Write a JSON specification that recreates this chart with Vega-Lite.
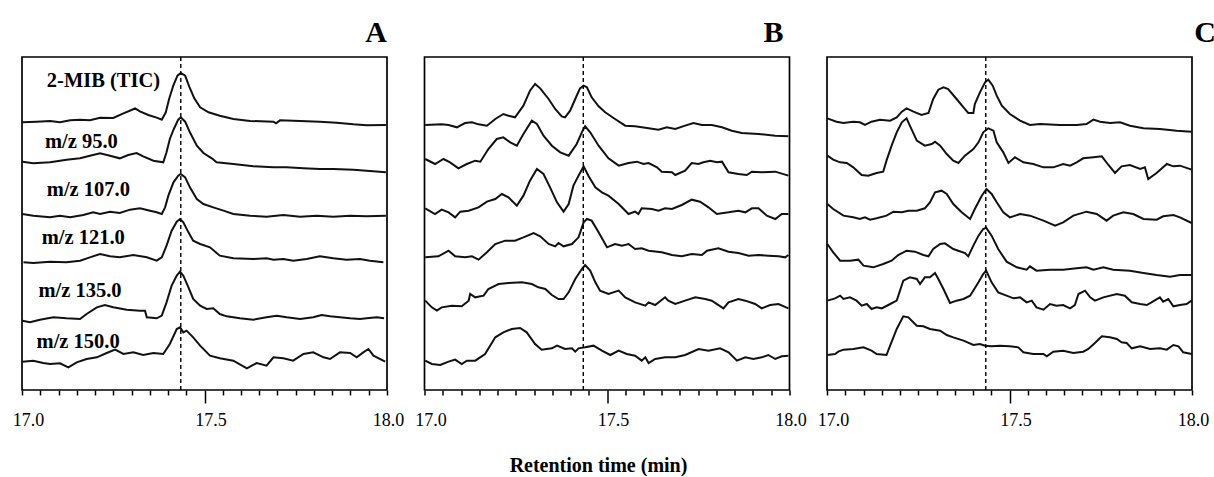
{
"$schema": "https://vega.github.io/schema/vega-lite/v6.json",
"background": "white",
"padding": {"left": 11, "top": 17, "right": 5, "bottom": 0},
"bounds": "flush",
"spacing": 37.5,
"config": {
  "view": {"stroke": "black", "strokeWidth": 1.7},
  "font": "Liberation Serif",
  "title": {"font": "Liberation Serif", "fontWeight": "bold", "fontSize": 30, "color": "black", "anchor": "end", "frame": "group", "baseline": "alphabetic", "offset": 8}
},
"datasets": {
"labels": [
{"label":"2-MIB (TIC)","t":17.068,"v":908},
{"label":"m/z 95.0","t":17.063,"v":725},
{"label":"m/z 107.0","t":17.068,"v":581},
{"label":"m/z 121.0","t":17.054,"v":438},
{"label":"m/z 135.0","t":17.045,"v":278},
{"label":"m/z 150.0","t":17.040,"v":125}
],
"traces": [
{"panel":"A","trace":1,"t":17.001,"v":803},{"panel":"A","trace":1,"t":17.040,"v":805},{"panel":"A","trace":1,"t":17.077,"v":807},{"panel":"A","trace":1,"t":17.104,"v":803},{"panel":"A","trace":1,"t":17.132,"v":809},{"panel":"A","trace":1,"t":17.159,"v":811},{"panel":"A","trace":1,"t":17.186,"v":809},{"panel":"A","trace":1,"t":17.214,"v":817},{"panel":"A","trace":1,"t":17.250,"v":816},{"panel":"A","trace":1,"t":17.278,"v":830},{"panel":"A","trace":1,"t":17.300,"v":840},{"panel":"A","trace":1,"t":17.310,"v":845},{"panel":"A","trace":1,"t":17.323,"v":836},{"panel":"A","trace":1,"t":17.346,"v":825},{"panel":"A","trace":1,"t":17.369,"v":817},{"panel":"A","trace":1,"t":17.383,"v":811},{"panel":"A","trace":1,"t":17.394,"v":833},{"panel":"A","trace":1,"t":17.403,"v":873},{"panel":"A","trace":1,"t":17.415,"v":915},{"panel":"A","trace":1,"t":17.426,"v":943},{"panel":"A","trace":1,"t":17.435,"v":951},{"panel":"A","trace":1,"t":17.447,"v":943},{"panel":"A","trace":1,"t":17.458,"v":911},{"panel":"A","trace":1,"t":17.472,"v":875},{"panel":"A","trace":1,"t":17.488,"v":848},{"panel":"A","trace":1,"t":17.511,"v":833},{"panel":"A","trace":1,"t":17.542,"v":823},{"panel":"A","trace":1,"t":17.579,"v":813},{"panel":"A","trace":1,"t":17.625,"v":807},{"panel":"A","trace":1,"t":17.689,"v":805},{"panel":"A","trace":1,"t":17.696,"v":800},{"panel":"A","trace":1,"t":17.707,"v":809},{"panel":"A","trace":1,"t":17.762,"v":807},{"panel":"A","trace":1,"t":17.816,"v":805},{"panel":"A","trace":1,"t":17.862,"v":802},{"panel":"A","trace":1,"t":17.908,"v":797},{"panel":"A","trace":1,"t":17.944,"v":794},{"panel":"A","trace":1,"t":17.997,"v":795},
{"panel":"A","trace":2,"t":17.001,"v":685},{"panel":"A","trace":2,"t":17.031,"v":680},{"panel":"A","trace":2,"t":17.077,"v":683},{"panel":"A","trace":2,"t":17.122,"v":691},{"panel":"A","trace":2,"t":17.159,"v":695},{"panel":"A","trace":2,"t":17.186,"v":703},{"panel":"A","trace":2,"t":17.214,"v":710},{"panel":"A","trace":2,"t":17.241,"v":703},{"panel":"A","trace":2,"t":17.268,"v":695},{"panel":"A","trace":2,"t":17.291,"v":705},{"panel":"A","trace":2,"t":17.314,"v":711},{"panel":"A","trace":2,"t":17.332,"v":701},{"panel":"A","trace":2,"t":17.360,"v":688},{"panel":"A","trace":2,"t":17.387,"v":683},{"panel":"A","trace":2,"t":17.396,"v":713},{"panel":"A","trace":2,"t":17.405,"v":753},{"panel":"A","trace":2,"t":17.416,"v":783},{"panel":"A","trace":2,"t":17.428,"v":811},{"panel":"A","trace":2,"t":17.435,"v":818},{"panel":"A","trace":2,"t":17.447,"v":805},{"panel":"A","trace":2,"t":17.460,"v":773},{"panel":"A","trace":2,"t":17.479,"v":733},{"panel":"A","trace":2,"t":17.497,"v":711},{"panel":"A","trace":2,"t":17.520,"v":695},{"panel":"A","trace":2,"t":17.533,"v":683},{"panel":"A","trace":2,"t":17.579,"v":678},{"panel":"A","trace":2,"t":17.634,"v":671},{"panel":"A","trace":2,"t":17.689,"v":668},{"panel":"A","trace":2,"t":17.725,"v":668},{"panel":"A","trace":2,"t":17.771,"v":665},{"panel":"A","trace":2,"t":17.816,"v":663},{"panel":"A","trace":2,"t":17.853,"v":663},{"panel":"A","trace":2,"t":17.908,"v":661},{"panel":"A","trace":2,"t":17.944,"v":658},{"panel":"A","trace":2,"t":17.997,"v":653},
{"panel":"A","trace":3,"t":17.001,"v":528},{"panel":"A","trace":3,"t":17.031,"v":523},{"panel":"A","trace":3,"t":17.077,"v":518},{"panel":"A","trace":3,"t":17.104,"v":523},{"panel":"A","trace":3,"t":17.132,"v":518},{"panel":"A","trace":3,"t":17.168,"v":525},{"panel":"A","trace":3,"t":17.195,"v":533},{"panel":"A","trace":3,"t":17.214,"v":528},{"panel":"A","trace":3,"t":17.241,"v":535},{"panel":"A","trace":3,"t":17.268,"v":531},{"panel":"A","trace":3,"t":17.296,"v":541},{"panel":"A","trace":3,"t":17.323,"v":545},{"panel":"A","trace":3,"t":17.351,"v":538},{"panel":"A","trace":3,"t":17.369,"v":533},{"panel":"A","trace":3,"t":17.383,"v":528},{"panel":"A","trace":3,"t":17.392,"v":548},{"panel":"A","trace":3,"t":17.401,"v":583},{"panel":"A","trace":3,"t":17.415,"v":623},{"panel":"A","trace":3,"t":17.428,"v":643},{"panel":"A","trace":3,"t":17.435,"v":648},{"panel":"A","trace":3,"t":17.447,"v":638},{"panel":"A","trace":3,"t":17.460,"v":608},{"panel":"A","trace":3,"t":17.479,"v":573},{"panel":"A","trace":3,"t":17.497,"v":558},{"panel":"A","trace":3,"t":17.524,"v":548},{"panel":"A","trace":3,"t":17.552,"v":538},{"panel":"A","trace":3,"t":17.579,"v":528},{"panel":"A","trace":3,"t":17.625,"v":523},{"panel":"A","trace":3,"t":17.670,"v":520},{"panel":"A","trace":3,"t":17.716,"v":525},{"panel":"A","trace":3,"t":17.762,"v":520},{"panel":"A","trace":3,"t":17.807,"v":523},{"panel":"A","trace":3,"t":17.853,"v":520},{"panel":"A","trace":3,"t":17.899,"v":523},{"panel":"A","trace":3,"t":17.944,"v":521},{"panel":"A","trace":3,"t":17.997,"v":523},
{"panel":"A","trace":4,"t":17.004,"v":383},{"panel":"A","trace":4,"t":17.031,"v":381},{"panel":"A","trace":4,"t":17.077,"v":385},{"panel":"A","trace":4,"t":17.122,"v":383},{"panel":"A","trace":4,"t":17.159,"v":388},{"panel":"A","trace":4,"t":17.186,"v":398},{"panel":"A","trace":4,"t":17.214,"v":408},{"panel":"A","trace":4,"t":17.241,"v":401},{"panel":"A","trace":4,"t":17.268,"v":398},{"panel":"A","trace":4,"t":17.305,"v":405},{"panel":"A","trace":4,"t":17.342,"v":398},{"panel":"A","trace":4,"t":17.369,"v":388},{"panel":"A","trace":4,"t":17.383,"v":398},{"panel":"A","trace":4,"t":17.396,"v":433},{"panel":"A","trace":4,"t":17.410,"v":478},{"panel":"A","trace":4,"t":17.424,"v":505},{"panel":"A","trace":4,"t":17.433,"v":513},{"panel":"A","trace":4,"t":17.442,"v":503},{"panel":"A","trace":4,"t":17.456,"v":473},{"panel":"A","trace":4,"t":17.469,"v":448},{"panel":"A","trace":4,"t":17.488,"v":438},{"panel":"A","trace":4,"t":17.515,"v":428},{"panel":"A","trace":4,"t":17.542,"v":403},{"panel":"A","trace":4,"t":17.579,"v":395},{"panel":"A","trace":4,"t":17.634,"v":393},{"panel":"A","trace":4,"t":17.670,"v":395},{"panel":"A","trace":4,"t":17.689,"v":391},{"panel":"A","trace":4,"t":17.716,"v":393},{"panel":"A","trace":4,"t":17.743,"v":388},{"panel":"A","trace":4,"t":17.780,"v":393},{"panel":"A","trace":4,"t":17.816,"v":401},{"panel":"A","trace":4,"t":17.853,"v":395},{"panel":"A","trace":4,"t":17.889,"v":391},{"panel":"A","trace":4,"t":17.926,"v":393},{"panel":"A","trace":4,"t":17.953,"v":388},{"panel":"A","trace":4,"t":17.990,"v":383},
{"panel":"A","trace":5,"t":17.001,"v":208},{"panel":"A","trace":5,"t":17.022,"v":203},{"panel":"A","trace":5,"t":17.049,"v":211},{"panel":"A","trace":5,"t":17.086,"v":218},{"panel":"A","trace":5,"t":17.122,"v":215},{"panel":"A","trace":5,"t":17.159,"v":213},{"panel":"A","trace":5,"t":17.177,"v":228},{"panel":"A","trace":5,"t":17.205,"v":248},{"panel":"A","trace":5,"t":17.227,"v":255},{"panel":"A","trace":5,"t":17.250,"v":248},{"panel":"A","trace":5,"t":17.287,"v":241},{"panel":"A","trace":5,"t":17.323,"v":238},{"panel":"A","trace":5,"t":17.337,"v":238},{"panel":"A","trace":5,"t":17.342,"v":218},{"panel":"A","trace":5,"t":17.369,"v":215},{"panel":"A","trace":5,"t":17.383,"v":223},{"panel":"A","trace":5,"t":17.396,"v":263},{"panel":"A","trace":5,"t":17.410,"v":313},{"panel":"A","trace":5,"t":17.424,"v":343},{"panel":"A","trace":5,"t":17.433,"v":355},{"panel":"A","trace":5,"t":17.442,"v":343},{"panel":"A","trace":5,"t":17.456,"v":308},{"panel":"A","trace":5,"t":17.469,"v":273},{"panel":"A","trace":5,"t":17.488,"v":253},{"panel":"A","trace":5,"t":17.506,"v":243},{"panel":"A","trace":5,"t":17.524,"v":245},{"panel":"A","trace":5,"t":17.542,"v":228},{"panel":"A","trace":5,"t":17.561,"v":221},{"panel":"A","trace":5,"t":17.597,"v":215},{"panel":"A","trace":5,"t":17.634,"v":211},{"panel":"A","trace":5,"t":17.670,"v":218},{"panel":"A","trace":5,"t":17.698,"v":223},{"panel":"A","trace":5,"t":17.725,"v":218},{"panel":"A","trace":5,"t":17.762,"v":213},{"panel":"A","trace":5,"t":17.798,"v":218},{"panel":"A","trace":5,"t":17.821,"v":225},{"panel":"A","trace":5,"t":17.844,"v":221},{"panel":"A","trace":5,"t":17.871,"v":218},{"panel":"A","trace":5,"t":17.899,"v":215},{"panel":"A","trace":5,"t":17.926,"v":213},{"panel":"A","trace":5,"t":17.944,"v":215},{"panel":"A","trace":5,"t":17.972,"v":218},{"panel":"A","trace":5,"t":17.992,"v":215},
{"panel":"A","trace":6,"t":17.001,"v":85},{"panel":"A","trace":6,"t":17.031,"v":88},{"panel":"A","trace":6,"t":17.058,"v":81},{"panel":"A","trace":6,"t":17.077,"v":78},{"panel":"A","trace":6,"t":17.104,"v":80},{"panel":"A","trace":6,"t":17.127,"v":68},{"panel":"A","trace":6,"t":17.150,"v":83},{"panel":"A","trace":6,"t":17.177,"v":93},{"panel":"A","trace":6,"t":17.205,"v":98},{"panel":"A","trace":6,"t":17.232,"v":111},{"panel":"A","trace":6,"t":17.255,"v":121},{"panel":"A","trace":6,"t":17.278,"v":108},{"panel":"A","trace":6,"t":17.305,"v":113},{"panel":"A","trace":6,"t":17.332,"v":105},{"panel":"A","trace":6,"t":17.360,"v":111},{"panel":"A","trace":6,"t":17.387,"v":108},{"panel":"A","trace":6,"t":17.405,"v":138},{"panel":"A","trace":6,"t":17.424,"v":183},{"panel":"A","trace":6,"t":17.433,"v":188},{"panel":"A","trace":6,"t":17.442,"v":173},{"panel":"A","trace":6,"t":17.451,"v":178},{"panel":"A","trace":6,"t":17.469,"v":158},{"panel":"A","trace":6,"t":17.488,"v":133},{"panel":"A","trace":6,"t":17.515,"v":103},{"panel":"A","trace":6,"t":17.542,"v":95},{"panel":"A","trace":6,"t":17.579,"v":88},{"panel":"A","trace":6,"t":17.616,"v":65},{"panel":"A","trace":6,"t":17.643,"v":81},{"panel":"A","trace":6,"t":17.670,"v":73},{"panel":"A","trace":6,"t":17.689,"v":98},{"panel":"A","trace":6,"t":17.716,"v":95},{"panel":"A","trace":6,"t":17.743,"v":88},{"panel":"A","trace":6,"t":17.771,"v":108},{"panel":"A","trace":6,"t":17.798,"v":113},{"panel":"A","trace":6,"t":17.826,"v":98},{"panel":"A","trace":6,"t":17.844,"v":93},{"panel":"A","trace":6,"t":17.871,"v":113},{"panel":"A","trace":6,"t":17.899,"v":111},{"panel":"A","trace":6,"t":17.917,"v":98},{"panel":"A","trace":6,"t":17.935,"v":113},{"panel":"A","trace":6,"t":17.949,"v":123},{"panel":"A","trace":6,"t":17.963,"v":103},{"panel":"A","trace":6,"t":17.995,"v":85},
{"panel":"B","trace":1,"t":17.002,"v":795},{"panel":"B","trace":1,"t":17.047,"v":797},{"panel":"B","trace":1,"t":17.066,"v":795},{"panel":"B","trace":1,"t":17.089,"v":788},{"panel":"B","trace":1,"t":17.111,"v":801},{"panel":"B","trace":1,"t":17.130,"v":803},{"panel":"B","trace":1,"t":17.148,"v":797},{"panel":"B","trace":1,"t":17.171,"v":793},{"panel":"B","trace":1,"t":17.194,"v":813},{"panel":"B","trace":1,"t":17.216,"v":828},{"panel":"B","trace":1,"t":17.230,"v":823},{"panel":"B","trace":1,"t":17.248,"v":818},{"panel":"B","trace":1,"t":17.271,"v":853},{"panel":"B","trace":1,"t":17.289,"v":898},{"panel":"B","trace":1,"t":17.303,"v":918},{"panel":"B","trace":1,"t":17.317,"v":905},{"panel":"B","trace":1,"t":17.340,"v":873},{"panel":"B","trace":1,"t":17.358,"v":843},{"panel":"B","trace":1,"t":17.376,"v":821},{"panel":"B","trace":1,"t":17.385,"v":818},{"panel":"B","trace":1,"t":17.399,"v":838},{"panel":"B","trace":1,"t":17.413,"v":873},{"panel":"B","trace":1,"t":17.426,"v":905},{"panel":"B","trace":1,"t":17.436,"v":913},{"panel":"B","trace":1,"t":17.445,"v":908},{"panel":"B","trace":1,"t":17.458,"v":878},{"panel":"B","trace":1,"t":17.477,"v":851},{"panel":"B","trace":1,"t":17.495,"v":833},{"panel":"B","trace":1,"t":17.522,"v":813},{"panel":"B","trace":1,"t":17.550,"v":793},{"panel":"B","trace":1,"t":17.577,"v":791},{"panel":"B","trace":1,"t":17.614,"v":785},{"panel":"B","trace":1,"t":17.641,"v":781},{"panel":"B","trace":1,"t":17.664,"v":788},{"panel":"B","trace":1,"t":17.687,"v":783},{"panel":"B","trace":1,"t":17.714,"v":793},{"panel":"B","trace":1,"t":17.737,"v":801},{"panel":"B","trace":1,"t":17.760,"v":795},{"panel":"B","trace":1,"t":17.787,"v":795},{"panel":"B","trace":1,"t":17.815,"v":788},{"panel":"B","trace":1,"t":17.842,"v":778},{"panel":"B","trace":1,"t":17.869,"v":771},{"panel":"B","trace":1,"t":17.915,"v":768},{"panel":"B","trace":1,"t":17.961,"v":763},{"panel":"B","trace":1,"t":17.997,"v":761},
{"panel":"B","trace":2,"t":17.002,"v":693},{"panel":"B","trace":2,"t":17.029,"v":678},{"panel":"B","trace":2,"t":17.052,"v":693},{"panel":"B","trace":2,"t":17.070,"v":683},{"panel":"B","trace":2,"t":17.093,"v":665},{"panel":"B","trace":2,"t":17.116,"v":678},{"panel":"B","trace":2,"t":17.139,"v":688},{"panel":"B","trace":2,"t":17.153,"v":685},{"panel":"B","trace":2,"t":17.175,"v":723},{"panel":"B","trace":2,"t":17.198,"v":753},{"panel":"B","trace":2,"t":17.216,"v":758},{"panel":"B","trace":2,"t":17.235,"v":743},{"panel":"B","trace":2,"t":17.253,"v":733},{"panel":"B","trace":2,"t":17.271,"v":768},{"panel":"B","trace":2,"t":17.294,"v":808},{"panel":"B","trace":2,"t":17.308,"v":798},{"panel":"B","trace":2,"t":17.326,"v":763},{"panel":"B","trace":2,"t":17.349,"v":733},{"panel":"B","trace":2,"t":17.372,"v":713},{"panel":"B","trace":2,"t":17.395,"v":703},{"panel":"B","trace":2,"t":17.417,"v":738},{"panel":"B","trace":2,"t":17.431,"v":773},{"panel":"B","trace":2,"t":17.440,"v":791},{"panel":"B","trace":2,"t":17.454,"v":773},{"panel":"B","trace":2,"t":17.477,"v":733},{"panel":"B","trace":2,"t":17.504,"v":695},{"panel":"B","trace":2,"t":17.532,"v":673},{"panel":"B","trace":2,"t":17.559,"v":681},{"panel":"B","trace":2,"t":17.582,"v":685},{"panel":"B","trace":2,"t":17.600,"v":678},{"panel":"B","trace":2,"t":17.614,"v":681},{"panel":"B","trace":2,"t":17.637,"v":668},{"panel":"B","trace":2,"t":17.650,"v":655},{"panel":"B","trace":2,"t":17.678,"v":653},{"panel":"B","trace":2,"t":17.687,"v":645},{"panel":"B","trace":2,"t":17.714,"v":658},{"panel":"B","trace":2,"t":17.732,"v":681},{"panel":"B","trace":2,"t":17.751,"v":678},{"panel":"B","trace":2,"t":17.764,"v":683},{"panel":"B","trace":2,"t":17.783,"v":688},{"panel":"B","trace":2,"t":17.801,"v":683},{"panel":"B","trace":2,"t":17.815,"v":685},{"panel":"B","trace":2,"t":17.833,"v":653},{"panel":"B","trace":2,"t":17.860,"v":648},{"panel":"B","trace":2,"t":17.883,"v":645},{"panel":"B","trace":2,"t":17.897,"v":655},{"panel":"B","trace":2,"t":17.924,"v":653},{"panel":"B","trace":2,"t":17.961,"v":655},{"panel":"B","trace":2,"t":17.997,"v":643},
{"panel":"B","trace":3,"t":17.002,"v":545},{"panel":"B","trace":3,"t":17.029,"v":528},{"panel":"B","trace":3,"t":17.047,"v":541},{"panel":"B","trace":3,"t":17.066,"v":533},{"panel":"B","trace":3,"t":17.084,"v":518},{"panel":"B","trace":3,"t":17.098,"v":535},{"panel":"B","trace":3,"t":17.121,"v":538},{"panel":"B","trace":3,"t":17.148,"v":548},{"panel":"B","trace":3,"t":17.171,"v":565},{"panel":"B","trace":3,"t":17.194,"v":573},{"panel":"B","trace":3,"t":17.212,"v":588},{"panel":"B","trace":3,"t":17.230,"v":578},{"panel":"B","trace":3,"t":17.253,"v":553},{"panel":"B","trace":3,"t":17.271,"v":583},{"panel":"B","trace":3,"t":17.289,"v":628},{"panel":"B","trace":3,"t":17.308,"v":663},{"panel":"B","trace":3,"t":17.326,"v":648},{"panel":"B","trace":3,"t":17.344,"v":608},{"panel":"B","trace":3,"t":17.363,"v":563},{"panel":"B","trace":3,"t":17.381,"v":535},{"panel":"B","trace":3,"t":17.395,"v":558},{"panel":"B","trace":3,"t":17.408,"v":613},{"panel":"B","trace":3,"t":17.422,"v":643},{"panel":"B","trace":3,"t":17.436,"v":671},{"panel":"B","trace":3,"t":17.449,"v":643},{"panel":"B","trace":3,"t":17.468,"v":608},{"panel":"B","trace":3,"t":17.486,"v":593},{"panel":"B","trace":3,"t":17.504,"v":583},{"panel":"B","trace":3,"t":17.532,"v":558},{"panel":"B","trace":3,"t":17.559,"v":528},{"panel":"B","trace":3,"t":17.577,"v":535},{"panel":"B","trace":3,"t":17.586,"v":528},{"panel":"B","trace":3,"t":17.595,"v":545},{"panel":"B","trace":3,"t":17.623,"v":543},{"panel":"B","trace":3,"t":17.641,"v":538},{"panel":"B","trace":3,"t":17.659,"v":545},{"panel":"B","trace":3,"t":17.678,"v":543},{"panel":"B","trace":3,"t":17.705,"v":555},{"panel":"B","trace":3,"t":17.732,"v":571},{"panel":"B","trace":3,"t":17.755,"v":565},{"panel":"B","trace":3,"t":17.778,"v":548},{"panel":"B","trace":3,"t":17.801,"v":528},{"panel":"B","trace":3,"t":17.833,"v":533},{"panel":"B","trace":3,"t":17.860,"v":538},{"panel":"B","trace":3,"t":17.879,"v":533},{"panel":"B","trace":3,"t":17.897,"v":545},{"panel":"B","trace":3,"t":17.915,"v":545},{"panel":"B","trace":3,"t":17.938,"v":523},{"panel":"B","trace":3,"t":17.961,"v":513},{"panel":"B","trace":3,"t":17.979,"v":528},{"panel":"B","trace":3,"t":17.997,"v":528},
{"panel":"B","trace":4,"t":17.002,"v":398},{"panel":"B","trace":4,"t":17.038,"v":401},{"panel":"B","trace":4,"t":17.066,"v":418},{"panel":"B","trace":4,"t":17.084,"v":401},{"panel":"B","trace":4,"t":17.111,"v":398},{"panel":"B","trace":4,"t":17.130,"v":401},{"panel":"B","trace":4,"t":17.148,"v":391},{"panel":"B","trace":4,"t":17.171,"v":413},{"panel":"B","trace":4,"t":17.194,"v":438},{"panel":"B","trace":4,"t":17.221,"v":448},{"panel":"B","trace":4,"t":17.248,"v":448},{"panel":"B","trace":4,"t":17.271,"v":458},{"panel":"B","trace":4,"t":17.299,"v":471},{"panel":"B","trace":4,"t":17.317,"v":461},{"panel":"B","trace":4,"t":17.340,"v":438},{"panel":"B","trace":4,"t":17.358,"v":431},{"panel":"B","trace":4,"t":17.367,"v":441},{"panel":"B","trace":4,"t":17.381,"v":431},{"panel":"B","trace":4,"t":17.404,"v":438},{"panel":"B","trace":4,"t":17.422,"v":458},{"panel":"B","trace":4,"t":17.436,"v":503},{"panel":"B","trace":4,"t":17.445,"v":513},{"panel":"B","trace":4,"t":17.458,"v":508},{"panel":"B","trace":4,"t":17.477,"v":473},{"panel":"B","trace":4,"t":17.500,"v":428},{"panel":"B","trace":4,"t":17.522,"v":438},{"panel":"B","trace":4,"t":17.541,"v":433},{"panel":"B","trace":4,"t":17.559,"v":438},{"panel":"B","trace":4,"t":17.577,"v":423},{"panel":"B","trace":4,"t":17.595,"v":425},{"panel":"B","trace":4,"t":17.614,"v":418},{"panel":"B","trace":4,"t":17.650,"v":413},{"panel":"B","trace":4,"t":17.678,"v":405},{"panel":"B","trace":4,"t":17.705,"v":401},{"panel":"B","trace":4,"t":17.732,"v":408},{"panel":"B","trace":4,"t":17.760,"v":405},{"panel":"B","trace":4,"t":17.774,"v":418},{"panel":"B","trace":4,"t":17.805,"v":425},{"panel":"B","trace":4,"t":17.833,"v":415},{"panel":"B","trace":4,"t":17.860,"v":411},{"panel":"B","trace":4,"t":17.888,"v":403},{"panel":"B","trace":4,"t":17.915,"v":405},{"panel":"B","trace":4,"t":17.942,"v":403},{"panel":"B","trace":4,"t":17.970,"v":401},{"panel":"B","trace":4,"t":17.988,"v":398},{"panel":"B","trace":4,"t":17.997,"v":405},
{"panel":"B","trace":5,"t":17.002,"v":268},{"panel":"B","trace":5,"t":17.020,"v":248},{"panel":"B","trace":5,"t":17.034,"v":238},{"panel":"B","trace":5,"t":17.047,"v":248},{"panel":"B","trace":5,"t":17.075,"v":253},{"panel":"B","trace":5,"t":17.102,"v":251},{"panel":"B","trace":5,"t":17.121,"v":268},{"panel":"B","trace":5,"t":17.125,"v":288},{"panel":"B","trace":5,"t":17.139,"v":278},{"panel":"B","trace":5,"t":17.162,"v":283},{"panel":"B","trace":5,"t":17.175,"v":303},{"panel":"B","trace":5,"t":17.203,"v":318},{"panel":"B","trace":5,"t":17.230,"v":321},{"panel":"B","trace":5,"t":17.267,"v":323},{"panel":"B","trace":5,"t":17.294,"v":318},{"panel":"B","trace":5,"t":17.312,"v":308},{"panel":"B","trace":5,"t":17.331,"v":303},{"panel":"B","trace":5,"t":17.349,"v":285},{"panel":"B","trace":5,"t":17.367,"v":273},{"panel":"B","trace":5,"t":17.381,"v":273},{"panel":"B","trace":5,"t":17.395,"v":293},{"panel":"B","trace":5,"t":17.413,"v":333},{"panel":"B","trace":5,"t":17.431,"v":363},{"panel":"B","trace":5,"t":17.440,"v":375},{"panel":"B","trace":5,"t":17.454,"v":358},{"panel":"B","trace":5,"t":17.468,"v":323},{"panel":"B","trace":5,"t":17.481,"v":298},{"panel":"B","trace":5,"t":17.504,"v":288},{"panel":"B","trace":5,"t":17.532,"v":298},{"panel":"B","trace":5,"t":17.550,"v":278},{"panel":"B","trace":5,"t":17.577,"v":263},{"panel":"B","trace":5,"t":17.605,"v":253},{"panel":"B","trace":5,"t":17.614,"v":263},{"panel":"B","trace":5,"t":17.632,"v":255},{"panel":"B","trace":5,"t":17.659,"v":278},{"panel":"B","trace":5,"t":17.668,"v":268},{"panel":"B","trace":5,"t":17.687,"v":258},{"panel":"B","trace":5,"t":17.714,"v":268},{"panel":"B","trace":5,"t":17.742,"v":278},{"panel":"B","trace":5,"t":17.769,"v":273},{"panel":"B","trace":5,"t":17.787,"v":268},{"panel":"B","trace":5,"t":17.819,"v":245},{"panel":"B","trace":5,"t":17.833,"v":263},{"panel":"B","trace":5,"t":17.860,"v":273},{"panel":"B","trace":5,"t":17.879,"v":268},{"panel":"B","trace":5,"t":17.906,"v":258},{"panel":"B","trace":5,"t":17.924,"v":245},{"panel":"B","trace":5,"t":17.947,"v":255},{"panel":"B","trace":5,"t":17.970,"v":258},{"panel":"B","trace":5,"t":17.997,"v":245},
{"panel":"B","trace":6,"t":17.002,"v":88},{"panel":"B","trace":6,"t":17.020,"v":78},{"panel":"B","trace":6,"t":17.043,"v":75},{"panel":"B","trace":6,"t":17.066,"v":85},{"panel":"B","trace":6,"t":17.084,"v":91},{"panel":"B","trace":6,"t":17.102,"v":78},{"panel":"B","trace":6,"t":17.116,"v":88},{"panel":"B","trace":6,"t":17.139,"v":88},{"panel":"B","trace":6,"t":17.166,"v":108},{"panel":"B","trace":6,"t":17.194,"v":158},{"panel":"B","trace":6,"t":17.216,"v":173},{"panel":"B","trace":6,"t":17.239,"v":183},{"panel":"B","trace":6,"t":17.262,"v":186},{"panel":"B","trace":6,"t":17.280,"v":173},{"panel":"B","trace":6,"t":17.303,"v":138},{"panel":"B","trace":6,"t":17.321,"v":121},{"panel":"B","trace":6,"t":17.349,"v":125},{"panel":"B","trace":6,"t":17.363,"v":133},{"panel":"B","trace":6,"t":17.385,"v":123},{"panel":"B","trace":6,"t":17.404,"v":125},{"panel":"B","trace":6,"t":17.413,"v":115},{"panel":"B","trace":6,"t":17.422,"v":125},{"panel":"B","trace":6,"t":17.440,"v":128},{"panel":"B","trace":6,"t":17.463,"v":133},{"panel":"B","trace":6,"t":17.486,"v":118},{"panel":"B","trace":6,"t":17.509,"v":105},{"panel":"B","trace":6,"t":17.532,"v":118},{"panel":"B","trace":6,"t":17.554,"v":108},{"panel":"B","trace":6,"t":17.577,"v":103},{"panel":"B","trace":6,"t":17.595,"v":88},{"panel":"B","trace":6,"t":17.605,"v":98},{"panel":"B","trace":6,"t":17.614,"v":81},{"panel":"B","trace":6,"t":17.632,"v":93},{"panel":"B","trace":6,"t":17.659,"v":98},{"panel":"B","trace":6,"t":17.687,"v":98},{"panel":"B","trace":6,"t":17.714,"v":105},{"panel":"B","trace":6,"t":17.751,"v":123},{"panel":"B","trace":6,"t":17.778,"v":118},{"panel":"B","trace":6,"t":17.810,"v":125},{"panel":"B","trace":6,"t":17.833,"v":113},{"panel":"B","trace":6,"t":17.856,"v":88},{"panel":"B","trace":6,"t":17.879,"v":98},{"panel":"B","trace":6,"t":17.901,"v":93},{"panel":"B","trace":6,"t":17.924,"v":98},{"panel":"B","trace":6,"t":17.942,"v":105},{"panel":"B","trace":6,"t":17.961,"v":93},{"panel":"B","trace":6,"t":17.979,"v":101},{"panel":"B","trace":6,"t":17.997,"v":103},
{"panel":"C","trace":1,"t":17.001,"v":815},{"panel":"C","trace":1,"t":17.026,"v":805},{"panel":"C","trace":1,"t":17.045,"v":801},{"panel":"C","trace":1,"t":17.072,"v":805},{"panel":"C","trace":1,"t":17.090,"v":803},{"panel":"C","trace":1,"t":17.104,"v":795},{"panel":"C","trace":1,"t":17.122,"v":805},{"panel":"C","trace":1,"t":17.145,"v":811},{"panel":"C","trace":1,"t":17.173,"v":808},{"panel":"C","trace":1,"t":17.191,"v":818},{"panel":"C","trace":1,"t":17.205,"v":835},{"panel":"C","trace":1,"t":17.218,"v":845},{"panel":"C","trace":1,"t":17.237,"v":835},{"panel":"C","trace":1,"t":17.259,"v":825},{"panel":"C","trace":1,"t":17.278,"v":831},{"panel":"C","trace":1,"t":17.291,"v":873},{"panel":"C","trace":1,"t":17.305,"v":901},{"panel":"C","trace":1,"t":17.319,"v":908},{"panel":"C","trace":1,"t":17.332,"v":903},{"panel":"C","trace":1,"t":17.355,"v":873},{"panel":"C","trace":1,"t":17.374,"v":848},{"panel":"C","trace":1,"t":17.387,"v":831},{"panel":"C","trace":1,"t":17.401,"v":831},{"panel":"C","trace":1,"t":17.405,"v":858},{"panel":"C","trace":1,"t":17.419,"v":893},{"panel":"C","trace":1,"t":17.433,"v":923},{"panel":"C","trace":1,"t":17.442,"v":931},{"panel":"C","trace":1,"t":17.454,"v":913},{"panel":"C","trace":1,"t":17.465,"v":883},{"panel":"C","trace":1,"t":17.479,"v":853},{"panel":"C","trace":1,"t":17.501,"v":828},{"panel":"C","trace":1,"t":17.529,"v":808},{"panel":"C","trace":1,"t":17.556,"v":795},{"panel":"C","trace":1,"t":17.584,"v":798},{"panel":"C","trace":1,"t":17.638,"v":795},{"panel":"C","trace":1,"t":17.684,"v":795},{"panel":"C","trace":1,"t":17.711,"v":798},{"panel":"C","trace":1,"t":17.730,"v":811},{"panel":"C","trace":1,"t":17.748,"v":805},{"panel":"C","trace":1,"t":17.775,"v":801},{"panel":"C","trace":1,"t":17.803,"v":803},{"panel":"C","trace":1,"t":17.830,"v":793},{"panel":"C","trace":1,"t":17.867,"v":785},{"panel":"C","trace":1,"t":17.912,"v":783},{"panel":"C","trace":1,"t":17.958,"v":778},{"panel":"C","trace":1,"t":17.999,"v":775},
{"panel":"C","trace":2,"t":17.001,"v":703},{"panel":"C","trace":2,"t":17.017,"v":691},{"panel":"C","trace":2,"t":17.036,"v":683},{"panel":"C","trace":2,"t":17.054,"v":681},{"panel":"C","trace":2,"t":17.072,"v":668},{"panel":"C","trace":2,"t":17.095,"v":645},{"panel":"C","trace":2,"t":17.113,"v":643},{"panel":"C","trace":2,"t":17.136,"v":651},{"panel":"C","trace":2,"t":17.154,"v":655},{"panel":"C","trace":2,"t":17.163,"v":688},{"panel":"C","trace":2,"t":17.177,"v":733},{"panel":"C","trace":2,"t":17.191,"v":773},{"panel":"C","trace":2,"t":17.205,"v":803},{"panel":"C","trace":2,"t":17.218,"v":815},{"panel":"C","trace":2,"t":17.227,"v":793},{"panel":"C","trace":2,"t":17.246,"v":748},{"panel":"C","trace":2,"t":17.268,"v":733},{"panel":"C","trace":2,"t":17.287,"v":738},{"panel":"C","trace":2,"t":17.296,"v":745},{"panel":"C","trace":2,"t":17.310,"v":733},{"panel":"C","trace":2,"t":17.328,"v":708},{"panel":"C","trace":2,"t":17.346,"v":688},{"panel":"C","trace":2,"t":17.360,"v":681},{"panel":"C","trace":2,"t":17.378,"v":703},{"panel":"C","trace":2,"t":17.401,"v":723},{"panel":"C","trace":2,"t":17.415,"v":743},{"panel":"C","trace":2,"t":17.428,"v":773},{"panel":"C","trace":2,"t":17.442,"v":785},{"panel":"C","trace":2,"t":17.456,"v":778},{"panel":"C","trace":2,"t":17.465,"v":743},{"panel":"C","trace":2,"t":17.483,"v":713},{"panel":"C","trace":2,"t":17.497,"v":681},{"panel":"C","trace":2,"t":17.515,"v":698},{"panel":"C","trace":2,"t":17.538,"v":683},{"panel":"C","trace":2,"t":17.565,"v":678},{"panel":"C","trace":2,"t":17.593,"v":668},{"panel":"C","trace":2,"t":17.620,"v":668},{"panel":"C","trace":2,"t":17.647,"v":678},{"panel":"C","trace":2,"t":17.666,"v":673},{"panel":"C","trace":2,"t":17.684,"v":683},{"panel":"C","trace":2,"t":17.702,"v":695},{"panel":"C","trace":2,"t":17.730,"v":698},{"panel":"C","trace":2,"t":17.753,"v":701},{"panel":"C","trace":2,"t":17.771,"v":675},{"panel":"C","trace":2,"t":17.789,"v":651},{"panel":"C","trace":2,"t":17.807,"v":671},{"panel":"C","trace":2,"t":17.830,"v":675},{"panel":"C","trace":2,"t":17.858,"v":663},{"panel":"C","trace":2,"t":17.871,"v":668},{"panel":"C","trace":2,"t":17.880,"v":633},{"panel":"C","trace":2,"t":17.903,"v":651},{"panel":"C","trace":2,"t":17.931,"v":678},{"panel":"C","trace":2,"t":17.949,"v":671},{"panel":"C","trace":2,"t":17.967,"v":673},{"panel":"C","trace":2,"t":17.999,"v":661},
{"panel":"C","trace":3,"t":17.001,"v":558},{"panel":"C","trace":3,"t":17.017,"v":543},{"panel":"C","trace":3,"t":17.045,"v":523},{"panel":"C","trace":3,"t":17.072,"v":518},{"panel":"C","trace":3,"t":17.090,"v":513},{"panel":"C","trace":3,"t":17.104,"v":518},{"panel":"C","trace":3,"t":17.118,"v":511},{"panel":"C","trace":3,"t":17.136,"v":515},{"panel":"C","trace":3,"t":17.163,"v":523},{"panel":"C","trace":3,"t":17.182,"v":535},{"panel":"C","trace":3,"t":17.205,"v":533},{"panel":"C","trace":3,"t":17.223,"v":538},{"panel":"C","trace":3,"t":17.246,"v":538},{"panel":"C","trace":3,"t":17.268,"v":545},{"panel":"C","trace":3,"t":17.282,"v":563},{"panel":"C","trace":3,"t":17.296,"v":593},{"panel":"C","trace":3,"t":17.314,"v":598},{"panel":"C","trace":3,"t":17.328,"v":588},{"panel":"C","trace":3,"t":17.346,"v":558},{"panel":"C","trace":3,"t":17.369,"v":533},{"panel":"C","trace":3,"t":17.392,"v":513},{"panel":"C","trace":3,"t":17.405,"v":543},{"panel":"C","trace":3,"t":17.424,"v":583},{"panel":"C","trace":3,"t":17.437,"v":603},{"panel":"C","trace":3,"t":17.451,"v":588},{"panel":"C","trace":3,"t":17.465,"v":563},{"panel":"C","trace":3,"t":17.483,"v":533},{"panel":"C","trace":3,"t":17.501,"v":518},{"panel":"C","trace":3,"t":17.529,"v":528},{"panel":"C","trace":3,"t":17.556,"v":523},{"panel":"C","trace":3,"t":17.593,"v":508},{"panel":"C","trace":3,"t":17.625,"v":493},{"panel":"C","trace":3,"t":17.647,"v":503},{"panel":"C","trace":3,"t":17.675,"v":523},{"panel":"C","trace":3,"t":17.711,"v":535},{"panel":"C","trace":3,"t":17.739,"v":528},{"panel":"C","trace":3,"t":17.766,"v":508},{"panel":"C","trace":3,"t":17.784,"v":523},{"panel":"C","trace":3,"t":17.812,"v":533},{"panel":"C","trace":3,"t":17.839,"v":528},{"panel":"C","trace":3,"t":17.867,"v":513},{"panel":"C","trace":3,"t":17.903,"v":511},{"panel":"C","trace":3,"t":17.921,"v":521},{"panel":"C","trace":3,"t":17.949,"v":525},{"panel":"C","trace":3,"t":17.967,"v":518},{"panel":"C","trace":3,"t":17.999,"v":501},
{"panel":"C","trace":4,"t":17.001,"v":438},{"panel":"C","trace":4,"t":17.017,"v":413},{"panel":"C","trace":4,"t":17.036,"v":388},{"panel":"C","trace":4,"t":17.063,"v":388},{"panel":"C","trace":4,"t":17.086,"v":391},{"panel":"C","trace":4,"t":17.100,"v":373},{"panel":"C","trace":4,"t":17.127,"v":368},{"panel":"C","trace":4,"t":17.154,"v":378},{"panel":"C","trace":4,"t":17.177,"v":388},{"panel":"C","trace":4,"t":17.195,"v":405},{"panel":"C","trace":4,"t":17.218,"v":418},{"panel":"C","trace":4,"t":17.241,"v":415},{"panel":"C","trace":4,"t":17.264,"v":405},{"panel":"C","trace":4,"t":17.278,"v":401},{"panel":"C","trace":4,"t":17.291,"v":423},{"panel":"C","trace":4,"t":17.310,"v":438},{"panel":"C","trace":4,"t":17.323,"v":440},{"panel":"C","trace":4,"t":17.346,"v":423},{"panel":"C","trace":4,"t":17.378,"v":411},{"panel":"C","trace":4,"t":17.387,"v":401},{"panel":"C","trace":4,"t":17.401,"v":433},{"panel":"C","trace":4,"t":17.415,"v":463},{"panel":"C","trace":4,"t":17.428,"v":483},{"panel":"C","trace":4,"t":17.436,"v":487},{"panel":"C","trace":4,"t":17.451,"v":463},{"panel":"C","trace":4,"t":17.469,"v":423},{"panel":"C","trace":4,"t":17.492,"v":385},{"panel":"C","trace":4,"t":17.520,"v":368},{"panel":"C","trace":4,"t":17.547,"v":361},{"panel":"C","trace":4,"t":17.556,"v":371},{"panel":"C","trace":4,"t":17.574,"v":358},{"panel":"C","trace":4,"t":17.611,"v":361},{"panel":"C","trace":4,"t":17.647,"v":361},{"panel":"C","trace":4,"t":17.684,"v":365},{"panel":"C","trace":4,"t":17.711,"v":368},{"panel":"C","trace":4,"t":17.730,"v":361},{"panel":"C","trace":4,"t":17.757,"v":368},{"panel":"C","trace":4,"t":17.784,"v":361},{"panel":"C","trace":4,"t":17.830,"v":358},{"panel":"C","trace":4,"t":17.867,"v":351},{"panel":"C","trace":4,"t":17.903,"v":345},{"panel":"C","trace":4,"t":17.940,"v":340},{"panel":"C","trace":4,"t":17.967,"v":345},{"panel":"C","trace":4,"t":17.999,"v":345},
{"panel":"C","trace":5,"t":17.001,"v":268},{"panel":"C","trace":5,"t":17.022,"v":275},{"panel":"C","trace":5,"t":17.036,"v":283},{"panel":"C","trace":5,"t":17.045,"v":273},{"panel":"C","trace":5,"t":17.063,"v":278},{"panel":"C","trace":5,"t":17.081,"v":268},{"panel":"C","trace":5,"t":17.095,"v":253},{"panel":"C","trace":5,"t":17.109,"v":258},{"panel":"C","trace":5,"t":17.122,"v":243},{"panel":"C","trace":5,"t":17.136,"v":248},{"panel":"C","trace":5,"t":17.150,"v":245},{"panel":"C","trace":5,"t":17.168,"v":255},{"panel":"C","trace":5,"t":17.191,"v":268},{"panel":"C","trace":5,"t":17.209,"v":328},{"panel":"C","trace":5,"t":17.227,"v":338},{"panel":"C","trace":5,"t":17.246,"v":333},{"panel":"C","trace":5,"t":17.255,"v":318},{"panel":"C","trace":5,"t":17.268,"v":338},{"panel":"C","trace":5,"t":17.282,"v":338},{"panel":"C","trace":5,"t":17.296,"v":351},{"panel":"C","trace":5,"t":17.305,"v":333},{"panel":"C","trace":5,"t":17.319,"v":303},{"panel":"C","trace":5,"t":17.337,"v":261},{"panel":"C","trace":5,"t":17.355,"v":268},{"panel":"C","trace":5,"t":17.374,"v":273},{"panel":"C","trace":5,"t":17.392,"v":283},{"panel":"C","trace":5,"t":17.415,"v":323},{"panel":"C","trace":5,"t":17.428,"v":348},{"panel":"C","trace":5,"t":17.436,"v":358},{"panel":"C","trace":5,"t":17.451,"v":323},{"panel":"C","trace":5,"t":17.469,"v":293},{"panel":"C","trace":5,"t":17.492,"v":283},{"panel":"C","trace":5,"t":17.511,"v":275},{"panel":"C","trace":5,"t":17.529,"v":278},{"panel":"C","trace":5,"t":17.547,"v":263},{"panel":"C","trace":5,"t":17.561,"v":268},{"panel":"C","trace":5,"t":17.574,"v":248},{"panel":"C","trace":5,"t":17.593,"v":241},{"panel":"C","trace":5,"t":17.611,"v":258},{"panel":"C","trace":5,"t":17.629,"v":253},{"panel":"C","trace":5,"t":17.647,"v":255},{"panel":"C","trace":5,"t":17.666,"v":245},{"panel":"C","trace":5,"t":17.679,"v":255},{"panel":"C","trace":5,"t":17.689,"v":288},{"panel":"C","trace":5,"t":17.707,"v":298},{"panel":"C","trace":5,"t":17.721,"v":278},{"panel":"C","trace":5,"t":17.734,"v":268},{"panel":"C","trace":5,"t":17.757,"v":278},{"panel":"C","trace":5,"t":17.794,"v":288},{"panel":"C","trace":5,"t":17.816,"v":283},{"panel":"C","trace":5,"t":17.835,"v":263},{"panel":"C","trace":5,"t":17.858,"v":258},{"panel":"C","trace":5,"t":17.876,"v":255},{"panel":"C","trace":5,"t":17.889,"v":263},{"panel":"C","trace":5,"t":17.912,"v":278},{"panel":"C","trace":5,"t":17.921,"v":265},{"panel":"C","trace":5,"t":17.935,"v":273},{"panel":"C","trace":5,"t":17.949,"v":251},{"panel":"C","trace":5,"t":17.967,"v":255},{"panel":"C","trace":5,"t":17.985,"v":258},{"panel":"C","trace":5,"t":17.999,"v":268},
{"panel":"C","trace":6,"t":17.001,"v":105},{"panel":"C","trace":6,"t":17.022,"v":108},{"panel":"C","trace":6,"t":17.031,"v":115},{"panel":"C","trace":6,"t":17.045,"v":121},{"panel":"C","trace":6,"t":17.072,"v":123},{"panel":"C","trace":6,"t":17.100,"v":128},{"panel":"C","trace":6,"t":17.122,"v":118},{"panel":"C","trace":6,"t":17.136,"v":108},{"panel":"C","trace":6,"t":17.163,"v":105},{"panel":"C","trace":6,"t":17.173,"v":133},{"panel":"C","trace":6,"t":17.191,"v":183},{"panel":"C","trace":6,"t":17.209,"v":221},{"panel":"C","trace":6,"t":17.223,"v":218},{"panel":"C","trace":6,"t":17.246,"v":193},{"panel":"C","trace":6,"t":17.264,"v":191},{"panel":"C","trace":6,"t":17.282,"v":183},{"panel":"C","trace":6,"t":17.310,"v":178},{"panel":"C","trace":6,"t":17.328,"v":165},{"panel":"C","trace":6,"t":17.346,"v":158},{"panel":"C","trace":6,"t":17.374,"v":148},{"panel":"C","trace":6,"t":17.401,"v":135},{"panel":"C","trace":6,"t":17.419,"v":138},{"panel":"C","trace":6,"t":17.433,"v":133},{"panel":"C","trace":6,"t":17.451,"v":131},{"panel":"C","trace":6,"t":17.474,"v":133},{"panel":"C","trace":6,"t":17.501,"v":131},{"panel":"C","trace":6,"t":17.524,"v":128},{"panel":"C","trace":6,"t":17.538,"v":113},{"panel":"C","trace":6,"t":17.565,"v":108},{"panel":"C","trace":6,"t":17.593,"v":108},{"panel":"C","trace":6,"t":17.602,"v":101},{"panel":"C","trace":6,"t":17.620,"v":115},{"panel":"C","trace":6,"t":17.647,"v":118},{"panel":"C","trace":6,"t":17.675,"v":111},{"panel":"C","trace":6,"t":17.702,"v":115},{"panel":"C","trace":6,"t":17.716,"v":123},{"panel":"C","trace":6,"t":17.734,"v":141},{"panel":"C","trace":6,"t":17.753,"v":161},{"panel":"C","trace":6,"t":17.775,"v":158},{"panel":"C","trace":6,"t":17.794,"v":153},{"panel":"C","trace":6,"t":17.807,"v":143},{"panel":"C","trace":6,"t":17.821,"v":141},{"panel":"C","trace":6,"t":17.835,"v":125},{"panel":"C","trace":6,"t":17.858,"v":131},{"panel":"C","trace":6,"t":17.885,"v":123},{"panel":"C","trace":6,"t":17.912,"v":125},{"panel":"C","trace":6,"t":17.931,"v":121},{"panel":"C","trace":6,"t":17.949,"v":135},{"panel":"C","trace":6,"t":17.963,"v":131},{"panel":"C","trace":6,"t":17.976,"v":113},{"panel":"C","trace":6,"t":17.999,"v":108}
]
},
"hconcat": [
{
 "width": 365, "height": 333,
 "title": {"text": "A"},
 "layer": [
  {"data": {"name": "traces"}, "transform": [{"filter": "datum.panel === 'A'"}],
   "mark": {"type": "line", "color": "#111111", "strokeWidth": 2},
   "encoding": {
    "x": {"field": "t", "type": "quantitative", "scale": {"domain": [17, 18], "nice": false, "zero": false},
      "axis": {"title": null, "domain": false, "grid": false, "tickCount": 21, "values": [17,17.05,17.1,17.15,17.2,17.25,17.3,17.35,17.4,17.45,17.5,17.55,17.6,17.65,17.7,17.75,17.8,17.85,17.9,17.95,18],
        "labelExpr": "(datum.value == 17 || datum.value == 17.5 || datum.value == 18) ? format(datum.value, '.1f') : ''",
        "labelOverlap": false, "labelFlush": false, "labelBound": false,
        "labelFont": "Liberation Serif", "labelFontSize": 18, "labelColor": "black",
        "labelPadding": {"condition": {"test": "datum && datum.value == 17.5", "value": 8}, "value": 16},
        "labelOffset": {"condition": {"test": "datum && datum.value >= 17.99", "value": 1}, "value": 6},
        "tickColor": "black", "tickWidth": 1.5,
        "tickSize": {"condition": {"test": "datum && datum.value == 17.5", "value": 13}, "value": 5}}},
    "y": {"field": "v", "type": "quantitative", "scale": {"domain": [0, 999], "nice": false, "zero": false}, "axis": null},
    "detail": {"field": "trace", "type": "nominal"}
   }},
  {"data": {"values": [{"t": 17.435}]}, "mark": {"type": "rule", "color": "black", "strokeWidth": 1.4, "strokeDash": [4, 3]},
   "encoding": {"x": {"field": "t", "type": "quantitative",
      "axis": {"title": null, "domain": false, "grid": false, "tickCount": 21, "values": [17,17.05,17.1,17.15,17.2,17.25,17.3,17.35,17.4,17.45,17.5,17.55,17.6,17.65,17.7,17.75,17.8,17.85,17.9,17.95,18],
        "labelExpr": "(datum.value == 17 || datum.value == 17.5 || datum.value == 18) ? format(datum.value, '.1f') : ''",
        "labelOverlap": false, "labelFlush": false, "labelBound": false,
        "labelFont": "Liberation Serif", "labelFontSize": 18, "labelColor": "black",
        "labelPadding": {"condition": {"test": "datum && datum.value == 17.5", "value": 8}, "value": 16},
        "labelOffset": {"condition": {"test": "datum && datum.value >= 17.99", "value": 1}, "value": 6},
        "tickColor": "black", "tickWidth": 1.5,
        "tickSize": {"condition": {"test": "datum && datum.value == 17.5", "value": 13}, "value": 5}}}}},
  {"data": {"name": "labels"}, "mark": {"type": "text", "align": "left", "baseline": "alphabetic", "font": "Liberation Serif", "fontWeight": "bold", "fontSize": 20.5, "color": "black"},
   "encoding": {"x": {"field": "t", "type": "quantitative",
      "axis": {"title": null, "domain": false, "grid": false, "tickCount": 21, "values": [17,17.05,17.1,17.15,17.2,17.25,17.3,17.35,17.4,17.45,17.5,17.55,17.6,17.65,17.7,17.75,17.8,17.85,17.9,17.95,18],
        "labelExpr": "(datum.value == 17 || datum.value == 17.5 || datum.value == 18) ? format(datum.value, '.1f') : ''",
        "labelOverlap": false, "labelFlush": false, "labelBound": false,
        "labelFont": "Liberation Serif", "labelFontSize": 18, "labelColor": "black",
        "labelPadding": {"condition": {"test": "datum && datum.value == 17.5", "value": 8}, "value": 16},
        "labelOffset": {"condition": {"test": "datum && datum.value >= 17.99", "value": 1}, "value": 6},
        "tickColor": "black", "tickWidth": 1.5,
        "tickSize": {"condition": {"test": "datum && datum.value == 17.5", "value": 13}, "value": 5}}},
     "y": {"field": "v", "type": "quantitative", "axis": null}, "text": {"field": "label"}}}
 ]
},
{
 "width": 365, "height": 333,
 "title": {"text": "B", "dx": -6},
 "layer": [
  {"data": {"name": "traces"}, "transform": [{"filter": "datum.panel === 'B'"}],
   "mark": {"type": "line", "color": "#111111", "strokeWidth": 2},
   "encoding": {
    "x": {"field": "t", "type": "quantitative", "scale": {"domain": [17, 18], "nice": false, "zero": false},
      "axis": {"title": "Retention time (min)", "titleFont": "Liberation Serif", "titleFontWeight": "bold", "titleFontSize": 20, "titleColor": "black", "titleX": 173.5, "titleY": 81, "titleBaseline": "alphabetic", "titleAlign": "center",
        "domain": false, "grid": false, "tickCount": 21, "values": [17,17.05,17.1,17.15,17.2,17.25,17.3,17.35,17.4,17.45,17.5,17.55,17.6,17.65,17.7,17.75,17.8,17.85,17.9,17.95,18],
        "labelExpr": "(datum.value == 17 || datum.value == 17.5 || datum.value == 18) ? format(datum.value, '.1f') : ''",
        "labelOverlap": false, "labelFlush": false, "labelBound": false,
        "labelFont": "Liberation Serif", "labelFontSize": 18, "labelColor": "black",
        "labelPadding": {"condition": {"test": "datum && datum.value == 17.5", "value": 8}, "value": 16},
        "labelOffset": {"condition": {"test": "datum && datum.value >= 17.99", "value": 1}, "value": 6},
        "tickColor": "black", "tickWidth": 1.5,
        "tickSize": {"condition": {"test": "datum && datum.value == 17.5", "value": 13}, "value": 5}}},
    "y": {"field": "v", "type": "quantitative", "scale": {"domain": [0, 999], "nice": false, "zero": false}, "axis": null},
    "detail": {"field": "trace", "type": "nominal"}
   }},
  {"data": {"values": [{"t": 17.435}]}, "mark": {"type": "rule", "color": "black", "strokeWidth": 1.4, "strokeDash": [4, 3]},
   "encoding": {"x": {"field": "t", "type": "quantitative",
      "axis": {"title": "Retention time (min)", "titleFont": "Liberation Serif", "titleFontWeight": "bold", "titleFontSize": 20, "titleColor": "black", "titleX": 173.5, "titleY": 81, "titleBaseline": "alphabetic", "titleAlign": "center",
        "domain": false, "grid": false, "tickCount": 21, "values": [17,17.05,17.1,17.15,17.2,17.25,17.3,17.35,17.4,17.45,17.5,17.55,17.6,17.65,17.7,17.75,17.8,17.85,17.9,17.95,18],
        "labelExpr": "(datum.value == 17 || datum.value == 17.5 || datum.value == 18) ? format(datum.value, '.1f') : ''",
        "labelOverlap": false, "labelFlush": false, "labelBound": false,
        "labelFont": "Liberation Serif", "labelFontSize": 18, "labelColor": "black",
        "labelPadding": {"condition": {"test": "datum && datum.value == 17.5", "value": 8}, "value": 16},
        "labelOffset": {"condition": {"test": "datum && datum.value >= 17.99", "value": 1}, "value": 6},
        "tickColor": "black", "tickWidth": 1.5,
        "tickSize": {"condition": {"test": "datum && datum.value == 17.5", "value": 13}, "value": 5}}}}}
 ]
},
{
 "width": 365, "height": 333,
 "title": {"text": "C", "dx": 24},
 "layer": [
  {"data": {"name": "traces"}, "transform": [{"filter": "datum.panel === 'C'"}],
   "mark": {"type": "line", "color": "#111111", "strokeWidth": 2},
   "encoding": {
    "x": {"field": "t", "type": "quantitative", "scale": {"domain": [17, 18], "nice": false, "zero": false},
      "axis": {"title": null, "domain": false, "grid": false, "tickCount": 21, "values": [17,17.05,17.1,17.15,17.2,17.25,17.3,17.35,17.4,17.45,17.5,17.55,17.6,17.65,17.7,17.75,17.8,17.85,17.9,17.95,18],
        "labelExpr": "(datum.value == 17 || datum.value == 17.5 || datum.value == 18) ? format(datum.value, '.1f') : ''",
        "labelOverlap": false, "labelFlush": false, "labelBound": false,
        "labelFont": "Liberation Serif", "labelFontSize": 18, "labelColor": "black",
        "labelPadding": {"condition": {"test": "datum && datum.value == 17.5", "value": 8}, "value": 16},
        "labelOffset": {"condition": {"test": "datum && datum.value >= 17.99", "value": 1}, "value": 6},
        "tickColor": "black", "tickWidth": 1.5,
        "tickSize": {"condition": {"test": "datum && datum.value == 17.5", "value": 13}, "value": 5}}},
    "y": {"field": "v", "type": "quantitative", "scale": {"domain": [0, 999], "nice": false, "zero": false}, "axis": null},
    "detail": {"field": "trace", "type": "nominal"}
   }},
  {"data": {"values": [{"t": 17.435}]}, "mark": {"type": "rule", "color": "black", "strokeWidth": 1.4, "strokeDash": [4, 3]},
   "encoding": {"x": {"field": "t", "type": "quantitative",
      "axis": {"title": null, "domain": false, "grid": false, "tickCount": 21, "values": [17,17.05,17.1,17.15,17.2,17.25,17.3,17.35,17.4,17.45,17.5,17.55,17.6,17.65,17.7,17.75,17.8,17.85,17.9,17.95,18],
        "labelExpr": "(datum.value == 17 || datum.value == 17.5 || datum.value == 18) ? format(datum.value, '.1f') : ''",
        "labelOverlap": false, "labelFlush": false, "labelBound": false,
        "labelFont": "Liberation Serif", "labelFontSize": 18, "labelColor": "black",
        "labelPadding": {"condition": {"test": "datum && datum.value == 17.5", "value": 8}, "value": 16},
        "labelOffset": {"condition": {"test": "datum && datum.value >= 17.99", "value": 1}, "value": 6},
        "tickColor": "black", "tickWidth": 1.5,
        "tickSize": {"condition": {"test": "datum && datum.value == 17.5", "value": 13}, "value": 5}}}}}
 ]
}
]
}
